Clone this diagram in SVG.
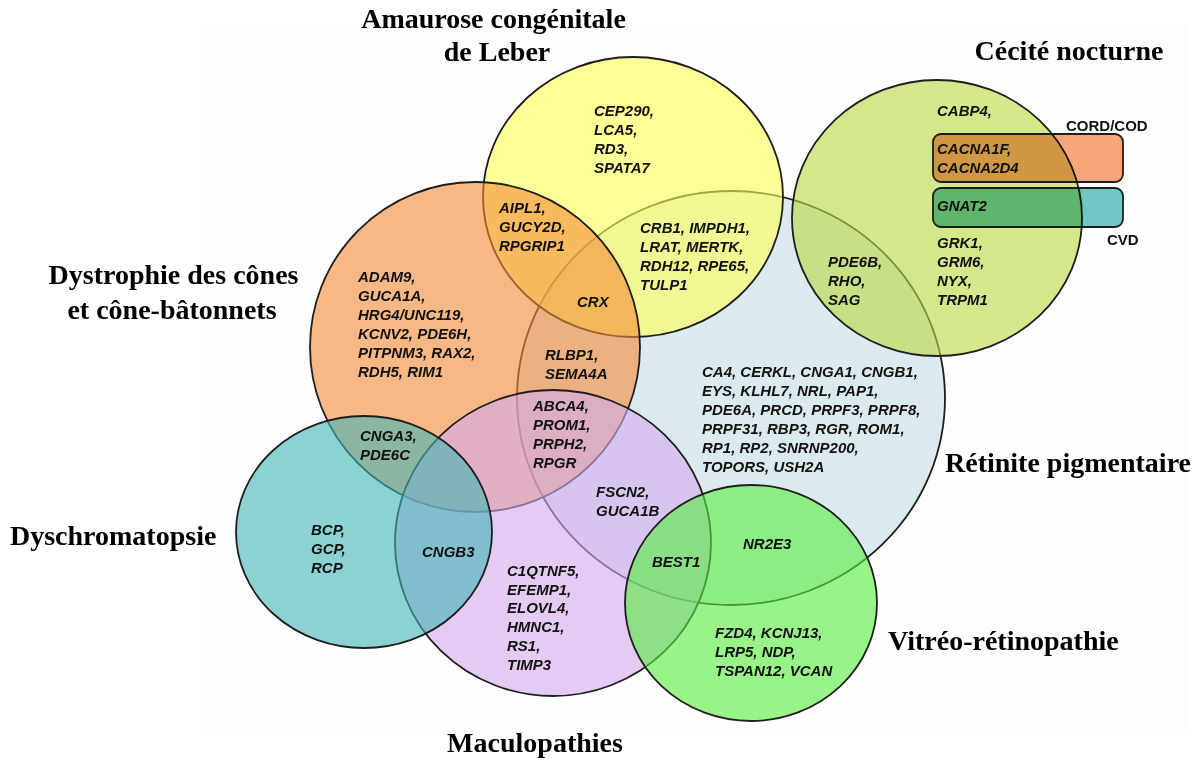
<svg xmlns="http://www.w3.org/2000/svg" width="1199" height="760" viewBox="0 0 1199 760">
  <style>
    .set { stroke: #1e1e1e; stroke-width: 1.8; fill-opacity: 0.6; }
    .box { stroke: #1e1e1e; stroke-width: 1.8; mix-blend-mode: multiply; }
    .g { font-family: "Liberation Sans", Arial, sans-serif; font-weight: bold; font-style: italic; font-size: 15px; fill: #111; }
    .t { font-family: "Liberation Serif", "Times New Roman", serif; font-weight: bold; font-size: 28px; fill: #000; }
    .r { font-family: "Liberation Sans", Arial, sans-serif; font-weight: bold; font-size: 15px; fill: #111; }
  </style>

  <rect x="0" y="0" width="1199" height="760" fill="#ffffff"/>
  <rect x="200" y="24" width="988" height="710" fill="#fdfdfd"/>

  <!-- Rétinite pigmentaire -->
  <g id="retinite-pigmentaire">
    <ellipse class="set" cx="731" cy="398" rx="214" ry="207" fill="#C5DEE6"/>
    <text class="g" x="702" y="377">
      <tspan x="702" dy="0">CA4, CERKL, CNGA1, CNGB1,</tspan>
      <tspan x="702" dy="19">EYS, KLHL7, NRL, PAP1,</tspan>
      <tspan x="702" dy="19">PDE6A, PRCD, PRPF3, PRPF8,</tspan>
      <tspan x="702" dy="19">PRPF31, RBP3, RGR, ROM1,</tspan>
      <tspan x="702" dy="19">RP1, RP2, SNRNP200,</tspan>
      <tspan x="702" dy="19">TOPORS, USH2A</tspan>
    </text>
    <text class="t" x="945" y="472">Rétinite pigmentaire</text>
  </g>

  <!-- Cécité nocturne -->
  <g id="cecite-nocturne">
    <ellipse class="set" cx="937" cy="218" rx="145" ry="138" fill="#B9D93F"/>
    <rect class="box" x="933" y="134" width="190" height="48" rx="8" fill="#F9A77B"/>
    <rect class="box" x="933" y="188" width="190" height="39" rx="8" fill="#73C8C8"/>
    <text class="g" x="937" y="116">CABP4,</text>
    <text class="g" x="937" y="154">
      <tspan x="937" dy="0">CACNA1F,</tspan>
      <tspan x="937" dy="18.5">CACNA2D4</tspan>
    </text>
    <text class="g" x="937" y="211">GNAT2</text>
    <text class="g" x="937" y="248">
      <tspan x="937" dy="0">GRK1,</tspan>
      <tspan x="937" dy="19">GRM6,</tspan>
      <tspan x="937" dy="19">NYX,</tspan>
      <tspan x="937" dy="19">TRPM1</tspan>
    </text>
    <text class="g" x="828" y="267">
      <tspan x="828" dy="0">PDE6B,</tspan>
      <tspan x="828" dy="19">RHO,</tspan>
      <tspan x="828" dy="19">SAG</tspan>
    </text>
    <text class="r" x="1066" y="131">CORD/COD</text>
    <text class="r" x="1107" y="245">CVD</text>
    <text class="t" x="1069" y="60" text-anchor="middle">Cécité nocturne</text>
  </g>

  <!-- Amaurose congénitale de Leber -->
  <g id="amaurose-leber">
    <ellipse class="set" cx="633" cy="197" rx="150" ry="140" fill="#FFFF55"/>
    <text class="g" x="594" y="116">
      <tspan x="594" dy="0">CEP290,</tspan>
      <tspan x="594" dy="19">LCA5,</tspan>
      <tspan x="594" dy="19">RD3,</tspan>
      <tspan x="594" dy="19">SPATA7</tspan>
    </text>
    <text class="g" x="640" y="233">
      <tspan x="640" dy="0">CRB1, IMPDH1,</tspan>
      <tspan x="640" dy="19">LRAT, MERTK,</tspan>
      <tspan x="640" dy="19">RDH12, RPE65,</tspan>
      <tspan x="640" dy="19">TULP1</tspan>
    </text>
    <text class="t" x="497" y="28" text-anchor="middle">
      <tspan x="497" dy="0">Amaurose congénitale</tspan>
      <tspan x="497" dy="33">de Leber</tspan>
    </text>
  </g>

  <!-- Dystrophie des cônes et cône-bâtonnets -->
  <g id="dystrophie-cones">
    <circle class="set" cx="475" cy="347" r="165" fill="#F58A37"/>
    <text class="g" x="499" y="213">
      <tspan x="499" dy="0">AIPL1,</tspan>
      <tspan x="499" dy="19">GUCY2D,</tspan>
      <tspan x="499" dy="19">RPGRIP1</tspan>
    </text>
    <text class="g" x="577" y="307">CRX</text>
    <text class="g" x="358" y="282">
      <tspan x="358" dy="0">ADAM9,</tspan>
      <tspan x="358" dy="19">GUCA1A,</tspan>
      <tspan x="358" dy="19">HRG4/UNC119,</tspan>
      <tspan x="358" dy="19">KCNV2, PDE6H,</tspan>
      <tspan x="358" dy="19">PITPNM3, RAX2,</tspan>
      <tspan x="358" dy="19">RDH5, RIM1</tspan>
    </text>
    <text class="g" x="545" y="360">
      <tspan x="545" dy="0">RLBP1,</tspan>
      <tspan x="545" dy="19">SEMA4A</tspan>
    </text>
    <text class="t" x="177" y="284" text-anchor="middle">
      <tspan x="177" dy="0">Dystrophie des cônes</tspan>
      <tspan x="172" dy="35">et cône-bâtonnets</tspan>
    </text>
  </g>

  <!-- Maculopathies -->
  <g id="maculopathies">
    <ellipse class="set" cx="553" cy="543" rx="158" ry="153" fill="#D4AAEE"/>
    <text class="g" x="533" y="411">
      <tspan x="533" dy="0">ABCA4,</tspan>
      <tspan x="533" dy="19">PROM1,</tspan>
      <tspan x="533" dy="19">PRPH2,</tspan>
      <tspan x="533" dy="19">RPGR</tspan>
    </text>
    <text class="g" x="596" y="497">
      <tspan x="596" dy="0">FSCN2,</tspan>
      <tspan x="596" dy="18.5">GUCA1B</tspan>
    </text>
    <text class="g" x="507" y="576">
      <tspan x="507" dy="0">C1QTNF5,</tspan>
      <tspan x="507" dy="18.7">EFEMP1,</tspan>
      <tspan x="507" dy="18.7">ELOVL4,</tspan>
      <tspan x="507" dy="18.7">HMNC1,</tspan>
      <tspan x="507" dy="18.7">RS1,</tspan>
      <tspan x="507" dy="18.7">TIMP3</tspan>
    </text>
    <text class="t" x="535" y="752" text-anchor="middle">Maculopathies</text>
  </g>

  <!-- Dyschromatopsie -->
  <g id="dyschromatopsie">
    <ellipse class="set" cx="364" cy="532" rx="128" ry="116" fill="#43B6B6"/>
    <text class="g" x="360" y="441">
      <tspan x="360" dy="0">CNGA3,</tspan>
      <tspan x="360" dy="19">PDE6C</tspan>
    </text>
    <text class="g" x="311" y="535">
      <tspan x="311" dy="0">BCP,</tspan>
      <tspan x="311" dy="19">GCP,</tspan>
      <tspan x="311" dy="19">RCP</tspan>
    </text>
    <text class="g" x="422" y="557">CNGB3</text>
    <text class="t" x="10" y="545">Dyschromatopsie</text>
  </g>

  <!-- Vitréo-rétinopathie -->
  <g id="vitreo-retinopathie">
    <ellipse class="set" cx="751" cy="603" rx="126" ry="118" fill="#55EE3C"/>
    <text class="g" x="652" y="567">BEST1</text>
    <text class="g" x="743" y="549">NR2E3</text>
    <text class="g" x="715" y="638">
      <tspan x="715" dy="0">FZD4, KCNJ13,</tspan>
      <tspan x="715" dy="19">LRP5, NDP,</tspan>
      <tspan x="715" dy="19">TSPAN12, VCAN</tspan>
    </text>
    <text class="t" x="888" y="650">Vitréo-rétinopathie</text>
  </g>

  <!-- no connectors: set membership is shown by overlap -->
  <g id="connectors"/>
</svg>
